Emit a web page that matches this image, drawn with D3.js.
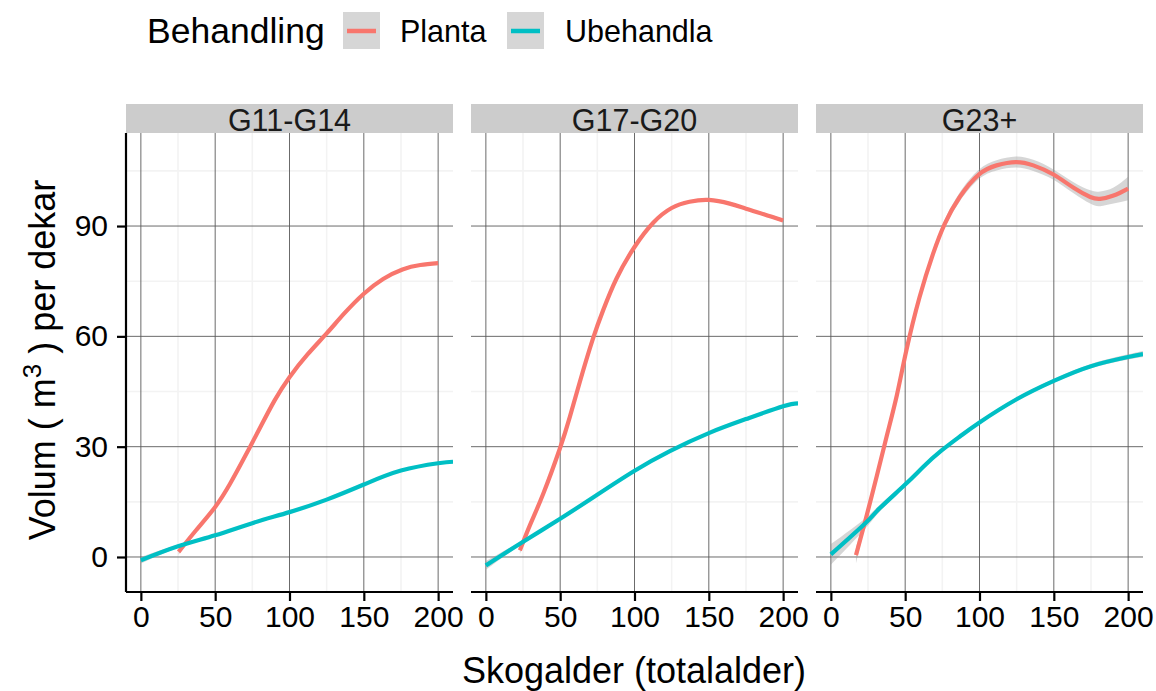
<!DOCTYPE html>
<html><head><meta charset="utf-8">
<script src="https://cdn.jsdelivr.net/npm/d3@7"></script>
<style>body{margin:0;background:#fff}svg{display:block;font-family:"Liberation Sans",Arial,sans-serif}</style>
</head><body>
<svg id="c" width="1156" height="691"></svg>
<script>
const panels = ["G11-G14", "G17-G20", "G23+"];
const groups = ["Planta", "Ubehandla"];
const colors = ["#F8766D", "#00BFC4"];
const xTicks = [0, 50, 100, 150, 200];
const xMinor = [25, 75, 125, 175];
const yTicks = [0, 30, 60, 90];
const yMinor = [15, 45, 75, 105];

// Panel G11-G14
const planta1 = [[25.4,1.4],[37,7.2],[50,13.6],[60,19.9],[70,27.3],[80,35.0],[90,42.6],[100,48.9],[112,55.0],[125,60.8],[137,66.3],[150,71.6],[163,75.6],[176,78.2],[188,79.4],[200,79.9]];
const ubeh1 = [[0,-0.9],[25,2.9],[50,5.9],[75,9.2],[100,12.2],[125,15.6],[150,19.7],[175,23.5],[200,25.5],[210,25.9]];
const plantaSe1 = [0.8,0.5,0.4,0.3,0.3,0.3,0.3,0.3,0.3,0.3,0.3,0.3,0.3,0.3,0.3,0.4];
const ubehSe1 = [0.9,0.4,0.3,0.3,0.3,0.3,0.3,0.3,0.3,0.4];
// Panel G17-G20
const planta2 = [[22.9,1.8],[29.6,8.6],[38.6,17.2],[49.8,29.5],[56.5,38.1],[63.2,47.6],[72,59.3],[79,67.2],[88,75.8],[100,84.3],[112.6,90.9],[125,94.9],[137,96.6],[150,97.1],[164,96.1],[175,94.7],[187,93.2],[200,91.5]];
const ubeh2 = [[0,-2.3],[22.9,3.6],[50,10.4],[74.4,16.8],[99.8,23.4],[123.8,28.8],[150,33.7],[175,37.5],[200,41],[210,41.8]];
const plantaSe2 = [1.0,0.5,0.4,0.4,0.3,0.3,0.3,0.3,0.3,0.3,0.3,0.3,0.3,0.3,0.3,0.3,0.4,0.5];
const ubehSe2 = [1.2,0.5,0.3,0.3,0.3,0.3,0.3,0.3,0.3,0.4];
// Panel G23+
const planta3 = [[16.9,0.5],[23,9.6],[30.9,22],[37.6,32.9],[44.4,44],[50.7,56],[59.7,70.7],[68.8,82.5],[76.6,90.6],[86.7,97.9],[99.5,104],[111.5,106.5],[124.5,107.4],[136.2,106.5],[149.8,104],[163.3,100.4],[174.5,97.9],[181.2,97.4],[190.2,98.3],[200,100.2]];
const ubeh3 = [[0,0.7],[23,9.1],[33,13.3],[50,19.7],[62.4,24.6],[74.3,28.9],[87.2,32.9],[100,36.6],[125,42.9],[150,47.9],[175,51.9],[200,54.4],[210,55.2]];
const plantaSe3 = [2.2,1.3,1.0,0.9,0.9,0.9,0.9,1.0,1.1,1.2,1.3,1.4,1.5,1.5,1.4,1.5,1.8,2.0,2.2,3.2];
const ubehSe3 = [2.8,1.4,0.9,0.6,0.5,0.5,0.5,0.5,0.5,0.5,0.6,0.7,0.8];

const seriesByPanel = [
  [[planta1, plantaSe1],[ubeh1, ubehSe1]],
  [[planta2, plantaSe2],[ubeh2, ubehSe2]],
  [[planta3, plantaSe3],[ubeh3, ubehSe3]]
];

const svg = d3.select("#c");
const panelLeft = [126, 471, 816];
const panelW = 327, pTop = 133, pBottom = 592, stripTop = 104;
const y = d3.scaleLinear().domain([-9.52, 115.3]).range([pBottom, pTop]);

const defs = svg.append("defs");

panels.forEach((name, i) => {
  const x = d3.scaleLinear().domain([-10, 210]).range([panelLeft[i], panelLeft[i] + panelW]);
  const g = svg.append("g");
  defs.append("clipPath").attr("id", "clip" + i).append("rect")
    .attr("x", panelLeft[i]).attr("y", pTop).attr("width", panelW).attr("height", pBottom - pTop);
  // minor grid
  g.selectAll(".mx").data(xMinor).join("line").attr("x1", d => x(d)).attr("x2", d => x(d))
    .attr("y1", pTop).attr("y2", pBottom).attr("stroke", "#f3f3f3").attr("stroke-width", 1.6);
  g.selectAll(".my").data(yMinor).join("line").attr("y1", d => y(d)).attr("y2", d => y(d))
    .attr("x1", panelLeft[i]).attr("x2", panelLeft[i] + panelW).attr("stroke", "#f3f3f3").attr("stroke-width", 1.6);
  // major grid
  g.selectAll(".Mx").data(xTicks).join("line").attr("x1", d => x(d)).attr("x2", d => x(d))
    .attr("y1", pTop).attr("y2", pBottom).attr("stroke", "#5a5a5a").attr("stroke-width", 0.9);
  g.selectAll(".My").data(yTicks).join("line").attr("y1", d => y(d)).attr("y2", d => y(d))
    .attr("x1", panelLeft[i]).attr("x2", panelLeft[i] + panelW).attr("stroke", "#5a5a5a").attr("stroke-width", 0.9);

  const gc = g.append("g").attr("clip-path", "url(#clip" + i + ")");
  const series = seriesByPanel[i];
  // ribbons
  series.forEach(([pts, se], k) => {
    const area = d3.area().x((d, j) => x(d[0])).y0((d, j) => y(d[1] - se[j])).y1((d, j) => y(d[1] + se[j]))
      .curve(d3.curveNatural);
    gc.append("path").datum(pts).attr("d", area).attr("fill", "#999999").attr("fill-opacity", 0.4);
  });
  series.forEach(([pts, se], k) => {
    const line = d3.line().x(d => x(d[0])).y(d => y(d[1])).curve(d3.curveNatural);
    gc.append("path").datum(pts).attr("d", line).attr("fill", "none")
      .attr("stroke", colors[k]).attr("stroke-width", 4.2);
  });

  // strip
  g.append("rect").attr("x", panelLeft[i]).attr("y", stripTop).attr("width", panelW)
    .attr("height", pTop - stripTop).attr("fill", "#cccccc");
  g.append("text").attr("x", panelLeft[i] + panelW / 2).attr("y", 131).attr("text-anchor", "middle")
    .attr("font-size", 30.5).attr("fill", "#1a1a1a").text(name);

  // x axis
  const xa = g.append("g").attr("transform", `translate(0,${pBottom})`)
    .call(d3.axisBottom(x).tickValues(xTicks).tickSize(9).tickPadding(5).tickFormat(d3.format("d")));
  xa.select(".domain").attr("stroke", "#000").attr("stroke-width", 2.2).attr("d", `M${panelLeft[i]},0H${panelLeft[i] + panelW}`);
  xa.selectAll(".tick line").attr("stroke", "#000").attr("stroke-width", 2.2);
  xa.selectAll(".tick text").attr("font-size", 30).attr("fill", "#000").attr("font-family", "Liberation Sans, Arial, sans-serif")
    .attr("dy", "0.71em");

  if (i === 0) {
    const ya = g.append("g").attr("transform", `translate(${panelLeft[i]},0)`)
      .call(d3.axisLeft(y).tickValues(yTicks).tickSize(9).tickPadding(9));
    ya.select(".domain").attr("stroke", "#000").attr("stroke-width", 2.2).attr("d", `M0,${pTop}V${pBottom}`);
    ya.selectAll(".tick line").attr("stroke", "#000").attr("stroke-width", 2.2);
    ya.selectAll(".tick text").attr("font-size", 30).attr("fill", "#000").attr("font-family", "Liberation Sans, Arial, sans-serif");
  }
});

// axis titles
svg.append("text").attr("x", 634).attr("y", 683).attr("text-anchor", "middle").attr("font-size", 36)
  .text("Skogalder (totalalder)");
const yt = svg.append("text").attr("transform", "translate(55,360) rotate(-90)").attr("text-anchor", "middle")
  .attr("font-size", 36);
yt.append("tspan").text("Volum ( m");
yt.append("tspan").attr("font-size", 26).attr("dy", -14).text("3");
yt.append("tspan").attr("dy", 14).text(" ) per dekar");

// legend
const leg = svg.append("g");
leg.append("text").attr("x", 147).attr("y", 43).attr("font-size", 35.5).text("Behandling");
const keyX = [343, 507], labX = [400, 565];
groups.forEach((gname, k) => {
  leg.append("rect").attr("x", keyX[k]).attr("y", 12).attr("width", 37).attr("height", 37).attr("fill", "#d6d6d6");
  leg.append("line").attr("x1", keyX[k] + 4).attr("x2", keyX[k] + 33).attr("y1", 31).attr("y2", 31)
    .attr("stroke", colors[k]).attr("stroke-width", 4.5);
  leg.append("text").attr("x", labX[k]).attr("y", 42).attr("font-size", 30.5).text(gname);
});
</script>
</body></html>
